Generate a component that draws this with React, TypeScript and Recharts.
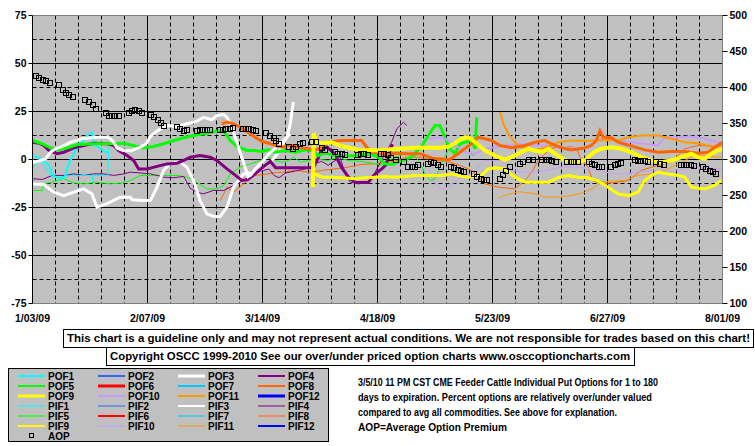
import React from "react";
import { ComposedChart, Line, XAxis, YAxis, CartesianGrid } from "recharts";

const FONT = "'Liberation Sans', Arial, sans-serif";

// x axis: days since 1/03/09
const dateTicks = [0, 35, 70, 105, 140, 175, 210];
const dateLabels = ["1/03/09", "2/07/09", "3/14/09", "4/18/09", "5/23/09", "6/27/09", "8/01/09"];
const weekDays = [7, 14, 21, 28, 42, 49, 56, 63, 77, 84, 91, 98, 112, 119, 126, 133, 147, 154, 161, 168, 182, 189, 196, 203];

const pctTicks = [-75, -50, -25, 0, 25, 50, 75];
const pctMajor = [-50, -25, 0, 25, 50];
const pctMinor = [-62.5, -37.5, -12.5, 12.5, 37.5, 62.5];
const premTicks = [100, 150, 200, 250, 300, 350, 400, 450, 500];

type Pt = [number, number];

const POF1: Pt[] = [[0,2.1],[1.9,1],[3.4,-0.5],[5,-3],[6,-7.5],[7,-9.2],[9,-10],[10,-8.5],[10.5,-4.9],[11.5,-0.5],[13,4.7],[14.6,8.2],[16.1,10.8],[17.1,13.4],[18.1,13.9],[18.4,10.8],[19.1,7.3],[20.7,5.6],[22.2,3.8],[22.9,3.8]];
const PIF1: Pt[] = [[0,-4.9],[1,-2.5],[2.4,0.3],[3.4,-3],[4.5,-5.7],[5.5,-8.3],[6.5,-9.2],[8.5,-9.2],[10.5,-8.5],[12.1,-8.3],[15.2,-8.3],[18.1,-8.3],[18.4,-11.8],[18.7,-8.3],[22.9,-8.3],[23.2,6.4]];
const POF3: Pt[] = [[0,-0.5],[0.4,-1.4],[2.4,-0.5],[4,0.3],[5.5,3.8],[7,5.6],[8.5,6.4],[10,7.6],[11.6,9],[13.6,9.9],[15.1,10.8],[16.6,11.1],[19.7,11.6],[22.7,11.6],[23.7,10.8],[24.7,9],[25.7,6],[27.5,4.7],[30,4.5],[32.8,6.5],[34.5,8],[35.9,12],[37.9,14.8],[40.9,17.7],[44,17.2],[47,18.6],[50,20],[52.1,22],[54.6,20.7],[56.1,22.9],[58.2,23.4],[59.2,22],[60.7,16.8],[62.2,9],[63.7,1.2],[64.7,-4],[65.6,-9],[66.5,-8],[67.8,-4.9],[70,-1],[71.9,3],[74,6],[75.9,9],[78.4,13.4]];
const PIF3: Pt[] = [[0,-12.7],[3.4,-13],[6.5,-17],[9.5,-18.8],[12.6,-17],[15.6,-15.3],[18.1,-17.9],[19.6,-24.8],[22.7,-23],[26.7,-19.6],[29.8,-19.6],[30.3,-21],[33.8,-21.4],[35.9,-21.4],[37.9,-14.4],[39.9,-5.7],[41.9,-2.3],[45,-1.4],[47,-4],[49,-11],[51,-21.4],[53.1,-28.3],[55,-29.5],[57.1,-29.7],[59.2,-24.8],[61.2,-14.4],[62.7,-10.9],[64.2,-7.5],[66,-7],[67.8,-7.5],[70,-4.5],[72.9,-0.5],[75,4],[77.4,11.6],[78.4,18],[79,25.5],[79.4,30]];
const POF4: Pt[] = [[0,9],[2,8.5],[3.4,7.3],[5,4.7],[7.5,3],[9.5,3.8],[12.6,6.1],[15.6,7.3],[18.6,8.5],[22.7,8.2],[24.7,7.3],[26.2,4.7],[28.8,2.1],[30.8,-0.5],[32.3,-4.9],[34.9,-4.9],[37.9,-3.6],[40.9,-2.3],[44,-1.9],[46,-0.5],[48,1.2],[51,2.1],[54.1,1.2],[56.1,-0.5],[59.2,-4.9],[61.2,-7.5],[63.7,-10.9],[65.5,-10.5],[67.8,-7.5],[70.8,-3.1],[72.4,-1],[74,-4.3],[79,-4.3],[85.5,-4.3],[87,1],[88,5],[89.6,6.5],[92,3],[94,-4],[96.2,-9.2],[98.2,-11.8],[102.2,-12],[103.8,-8.3],[106.3,-4.9],[107.5,-3],[108.5,2],[109.5,8]];
const PIF4: Pt[] = [[0,-10],[3,-10.4],[6,-8.3],[10,-8.3],[12.6,-7.5],[15.6,-8.3],[18.6,-7.5],[21.7,-7.5],[24.7,-8.3],[27.8,-7.5],[29.8,-6.6],[32.8,-7],[35.9,-7.5],[37.9,-8.3],[39.9,-9.2],[43,-9.5],[46,-8.8],[48,-15],[50,-17],[52,-17.9],[55.1,-16.1],[58.2,-16.1],[61.2,-13.5],[64.2,-10.9],[67.3,-7.5],[70.3,-5.7],[72,-5],[73.5,-8.3],[75,-9.5],[77,-7],[80,-6],[84,-4.5],[86,-2],[88,-1],[90,-3],[93.6,1.2],[95.2,-7.5],[96.7,-11.8],[99.2,-12.7],[102.2,-11.8],[104.3,-6.6],[107.3,3],[109.3,9],[110.9,16],[112.9,19.4],[113.9,17.7]];
const POF5: Pt[] = [[0,9.9],[3,8.2],[4.5,6.8],[7.5,5],[10.5,6],[13.6,7.8],[19.6,8.2],[23.7,8.2],[27.8,8.5],[31.8,6.8],[33.8,6.1],[36.9,6.8],[39.9,8.2],[43,9.9],[46,11.3],[49,12.5],[53.1,13.7],[56.1,14.8],[58.2,14.8],[60.2,9.9],[62.2,6.8],[65.3,4.7],[67.3,4.7],[69.8,4.2],[71.8,5],[73.9,3.8],[77,4.7],[80,3.8],[83,5],[85,4.7],[87,2],[89,3.3],[92,2],[95,2],[98,2],[100.2,2.6],[103.3,2.6],[105.3,1.2],[107.3,-2.3],[109.3,-2.6],[112,-1],[115,1],[118.5,7],[120.5,12.5],[122.5,17.7],[124,17.7],[125.5,11.6],[127,5.6],[128.6,3],[130.1,8.2],[131.6,9],[133.7,9.9],[134.7,5.5],[135.2,22]];
const PIF5: Pt[] = [[0,-16.1],[3,-16.1],[3.4,-12.7],[5.5,-12],[9.5,-10],[12.6,-12.2],[15.6,-12.7],[19.6,-11.8],[23.7,-12.7],[26.7,-12.3],[29.8,-11],[32.8,-8.3],[35.9,-8.3],[39.9,-8.3],[44,-8.3],[47,-9.2],[50,-11.8],[53.1,-15.3],[56.1,-15.3],[58.2,-13.5],[60.2,-7.5],[63.2,-4],[66.3,-2.3],[69.3,-0.5],[71.8,1.2],[73.9,-0.5],[75.9,-1.4],[78,-0.5],[79.5,1.2],[81.5,-1.4],[84,-0.5],[86,0.3],[90,-0.5],[93,1.2],[96,-0.5],[100,-1],[104,-2],[106.3,-3],[108,-1],[110,1],[113,3],[116,3],[118,-2],[119.5,-7.5],[121,-11],[122.5,-10],[124.5,-2.3],[126.5,4.7],[128.5,7.3],[130.5,5.5],[132.5,3.5],[134.5,2]];
const POF8: Pt[] = [[57.6,18.6],[59.2,19.5],[61.2,18.6],[63.2,16.8],[65.3,14.5],[67.8,11.6],[69.8,9.5],[71.9,8.5],[73.9,7.3],[75.9,6.4],[77.9,7.3],[81,6.4],[84,5.6],[86,5],[88,6],[90,9],[92,9.5],[94,9.9],[98,9.9],[100.2,9.9],[101.7,6.4],[103.3,3.8],[107.3,3],[110,3.3],[114,3],[118,3],[122,0.5],[124.5,0.3],[127,0],[129.5,3],[131.6,5.7],[133.5,8],[135.6,11.6],[137.7,10.8],[139.7,9.9],[142.3,7.3],[145.8,6.1],[149.9,7.3],[152.9,9],[155.9,9.9],[158,8.2],[161,6.1],[164,5],[168,6],[170.1,7.3],[171.6,9.9],[172.7,15],[173.7,11.6],[176.2,11.3],[178.2,9],[182.3,7],[186.3,5],[190.4,3.8],[194.4,4.2],[198.5,4.2],[202.5,3.3],[205.6,3.8],[207.6,6.4],[210,9]];
const PIF8: Pt[] = [[57.2,-21.3],[59.2,-14.4],[61.2,-17],[64.2,-12.7],[67.3,-8.3],[70,-8],[73,-7],[76,-6.6],[80,-5.7],[84,-6.6],[88,-5.7],[92,-4.9],[96,-4],[100,-2.6],[104,-2.3],[108,-1.4],[111,-0.5],[114,1.2],[118,1.2],[122,-0.5],[126,-1],[130,-3],[134,-6],[137.7,-12.7],[141.7,-14.4],[146.8,-15.3],[149.9,-11],[151.9,-6.6],[153.9,-0.5],[157,4.7],[159,6.4],[162,6.1],[164,6.8],[165.6,5.6],[167.1,-0.5],[169.1,-4],[170.1,-9.2],[170.6,-11],[173.2,-12.7],[178.2,-11.8],[181.3,-10.9],[183.3,-8.3],[185.3,-5.7],[188.4,-4],[194.4,-1.4],[198.5,5.6],[202.5,7.3],[207.6,6.8],[210,7]];
const POF9: Pt[] = [[85.3,-14.4],[85.6,13.7],[86.5,9],[88.5,8.5],[91,9],[94,7],[97.5,5.6],[100.2,4.7],[103,5],[106,4.7],[109,5.3],[112,5.6],[116,6.1],[120,6.1],[124,6.1],[127,6.8],[130.6,10.8],[132.6,11.6],[134.7,9],[137.7,4.7],[140.7,2.1],[143.8,-0.2],[146.8,2],[148.8,4],[150.9,5.6],[152.9,4.7],[155,4],[157,5.6],[159,3],[162,-0.2],[165,-1.4],[168,-0.5],[171,4],[173,5.6],[176.2,6.4],[179.2,5.6],[182.3,3.8],[185.3,1.2],[188.4,-0.5],[191.4,-1.4],[194.4,-0.5],[197.5,1.2],[200.5,3],[202.5,1.2],[204.6,0.3],[206.6,3],[208.6,4.7],[210,5.6]];
const PIF9: Pt[] = [[86,-7.5],[88.1,-9.2],[91.1,-9.2],[94.1,-9.5],[98.2,-10],[101.2,-9.5],[104.3,-9.2],[107.3,-8.8],[110.4,-9.2],[113.4,-8.8],[116.4,-8.3],[120.5,-8.3],[124.5,-8.3],[127.6,-7.5],[129.6,-8.3],[132.6,-9.2],[136.7,-8.3],[138.7,-4.9],[140.7,-4.3],[143.8,-4.9],[146.8,-9.2],[149.9,-11.8],[152.9,-11.8],[157,-11.8],[160,-9.5],[163,-8.3],[166,-9.2],[169,-9.5],[172,-11],[175.2,-14.4],[178.2,-17.9],[181.3,-18.8],[184.3,-17],[186.3,-10.9],[188.4,-8.3],[190.4,-6.6],[193.4,-7.5],[196.5,-8.3],[198.5,-9.2],[200.5,-14.4],[204.6,-15.3],[207.6,-13.5],[209.6,-10.9]];
const POF10: Pt[] = [[120.5,10.8],[124.5,11.6],[127.6,9],[129.6,6.4],[131.6,3.8],[134.7,2.9],[137.7,5.6],[140.7,6.4],[143.8,7.3],[147.8,8.2],[152.9,7.3],[158,7.3],[162,6.1],[166.1,5.6],[169.1,6.1],[171.1,9.9],[174.2,11.6],[178.2,9.9],[182.3,9],[186.3,8.2],[190.4,7.3],[192.4,11.6],[196.5,11.6],[200.5,12],[204.6,10.8],[208.6,9],[210,9]];
const PIF10: Pt[] = [[120.5,-5.7],[122.5,-12.7],[124.5,-15.3],[126.5,-14.4],[128.6,-11.8],[131,-9],[134,-7],[137.7,-0.5],[142.8,-0.5],[145.8,-5.7],[150.9,-6.6],[156,-5.7],[161,-4],[166.1,-4],[170.1,-4.9],[174.2,-6.6],[178.2,-7.5],[183.3,-6.6],[188.4,-5.7],[192.4,-6.6],[196.5,-5.7],[200.5,-4],[204.6,-4],[208.6,-4.9],[210,-4.9]];
const POF11: Pt[] = [[142.3,24.7],[143.3,18.6],[144.8,13.4],[146.8,9],[148.8,6.4],[151.9,5],[154.9,5.6],[158,7.3],[160,9],[164,9.9],[168.1,9.6],[171.1,9.9],[174.2,10.2],[178.2,9.9],[181.3,11.6],[185.3,12.5],[190.4,12.5],[194.4,10.8],[198.5,9],[202.5,8.5],[205.6,7.3],[207.6,6.4],[210,7.3]];
const PIF11: Pt[] = [[142,-20],[143.8,-18.6],[147.8,-16.8],[152.9,-17.7],[156,-19.6],[160,-19.6],[164,-18.8],[168.1,-17],[171.1,-14.4],[173.2,-11.8],[176.2,-11.2],[180.2,-10.9],[184.3,-8.3],[188.4,-7.5],[192.4,-5.7],[196.5,-2.3],[200.5,1.2],[204.6,2.1],[208.6,1.2],[210,1.5]];

// average option premium (right axis)
const AOP: Pt[] = [[1.1,416],[2.1,413],[3.1,411],[4.2,409],[5.2,406],[8.2,403],[9.2,397],[10.2,393],[11.2,390],[12.3,387],[16.1,383],[17.3,380],[18.3,376],[19.4,370],[22.3,365],[23.2,360],[24.2,360],[25.2,360],[26.2,360],[29.3,364],[30.3,367],[31.3,369],[32.3,367],[33.3,364],[36.1,362],[37.1,359],[38.1,355],[39.1,351],[40.1,347],[44,345],[45,342],[46,339],[47,341],[50,340],[51,341],[52,341],[53,341],[54,341],[57,341],[58,341],[59,342],[60,343],[61,344],[64,343],[65,343],[66,342],[67,341],[68,339],[71.1,337],[72.4,333],[73.4,330],[74.2,326],[75.1,322],[78.2,318],[79.3,315],[80.3,318],[81.3,321],[82.2,323],[85.2,324],[86.3,324],[88.1,316],[89.1,313],[92.1,310],[93.1,308],[94.1,307],[95.2,306],[99,306],[100,307],[101,307],[102,306],[106.1,307],[107.1,308],[108.1,306],[109.1,302],[110.6,299],[113.2,296],[114.4,289],[115.4,289],[116.4,290],[117.4,292],[120.3,294],[121.3,296],[122.3,295],[123.3,293],[124.3,290],[127.4,289],[128.4,288],[129.4,286],[130.4,284],[131.4,282],[134.4,280],[135.4,276],[136.4,273],[137.4,272],[138.4,272],[142.3,273],[143.3,279],[144.1,284],[145.3,289],[148.3,294],[149.4,296],[151.2,300],[152.4,300],[155.2,299],[156.2,299],[157.2,299],[158.2,298],[159.3,297],[162.8,297],[163.8,296],[164.8,296],[166,296],[169.3,296],[170.3,294],[171.3,292],[172.3,290],[173.4,289],[176.2,289],[177.2,293],[178.2,294],[179.2,295],[183.3,299],[184.3,298],[185.3,298],[186.3,298],[187.3,296],[189.9,296],[190.9,294],[192.1,292],[197.3,293],[198.3,292],[199.3,292],[200.3,292],[201.3,291],[204.1,290],[205.1,287],[206.1,284],[207.1,282],[208.1,280]];

// legend entries, row by row as in the original
const legendNames = ["POF1","POF2","POF3","POF4","POF5","POF6","POF7","POF8","POF9","POF10","POF11","POF12","PIF1","PIF2","PIF3","PIF4","PIF5","PIF6","PIF7","PIF8","PIF9","PIF10","PIF11","PIF12"];
const monthColors = ["#00FFFF","#3366FF","#FFFFFF","#800080","#00FF00","#FF0000","#00CCFF","#FF6600","#FFFF00","#CC99FF","#FF9900","#0000FF"];
const legendWidths = [2,2,3,2,2,3,2,2,3,2,2,3, 1,1,2,1,1,2,1,1,2,1,1,2];

const descLines = [
  "3/5/10 11 PM CST CME Feeder Cattle Individual Put Options for 1 to 180",
  "days to expiration. Percent options are relatively over/under valued",
  "compared to avg all commodities. See above for explanation.",
  "AOP=Average Option Premium",
];
const descWidths = [300, 294, 259, 149];

const toRows = (pts: Pt[]) => pts.map(([d, v]) => ({ d, v }));

const series = [
  { name: "PIF8", pts: PIF8, color: monthColors[7], w: 1 },
  { name: "PIF11", pts: PIF11, color: monthColors[10], w: 1 },
  { name: "PIF10", pts: PIF10, color: monthColors[9], w: 1 },
  { name: "PIF5", pts: PIF5, color: monthColors[4], w: 1 },
  { name: "PIF4", pts: PIF4, color: monthColors[3], w: 1 },
  { name: "PIF1", pts: PIF1, color: monthColors[0], w: 1 },
  { name: "PIF3", pts: PIF3, color: monthColors[2], w: 3 },
  { name: "POF1", pts: POF1, color: monthColors[0], w: 2 },
  { name: "POF4", pts: POF4, color: monthColors[3], w: 3 },
  { name: "POF5", pts: POF5, color: monthColors[4], w: 3 },
  { name: "POF3", pts: POF3, color: monthColors[2], w: 3 },
  { name: "POF10", pts: POF10, color: monthColors[9], w: 2 },
  { name: "POF11", pts: POF11, color: monthColors[10], w: 2 },
  { name: "POF8", pts: POF8, color: monthColors[7], w: 3 },
  { name: "PIF9", pts: PIF9, color: monthColors[8], w: 3 },
  { name: "POF9", pts: POF9, color: monthColors[8], w: 4 },
];

const tickStyle = { fill: "#000", fontSize: 10.5, fontWeight: 700, fontFamily: FONT };

function SquareDot(props: any) {
  const { cx, cy, index } = props;
  if (cx == null || cy == null) return <g key={index} />;
  return (
    <rect key={index} x={Math.round(cx) - 2.5} y={Math.round(cy) - 2.5} width={5} height={5} fill="none" stroke="#000" strokeWidth={1} />
  );
}

export default function App() {
  return (
    <div style={{ position: "absolute", left: 0, top: 0, width: 755, height: 446, background: "#fff", fontFamily: FONT }}>
      <ComposedChart width={755} height={341} margin={{ top: 15.5, right: 0.5, left: 0.5, bottom: 7.5 }}>
        <CartesianGrid
          yAxisId="left"
          fill="#C0C0C0"
          stroke="#000"
          horizontalValues={pctMajor}
          verticalValues={dateTicks.slice(1, -1)}
        />
        <CartesianGrid
          yAxisId="left"
          stroke="#000"
          strokeDasharray="4 3"
          horizontalValues={pctMinor}
          verticalValues={weekDays}
        />
        <CartesianGrid yAxisId="left" stroke="#808080" vertical={false} horizontalValues={[75]} />
        <XAxis
          type="number"
          dataKey="d"
          domain={[0, 210]}
          ticks={dateTicks}
          interval={0}
          allowDataOverflow
          tickFormatter={(d: number) => dateLabels[dateTicks.indexOf(d)]}
          axisLine={{ stroke: "#808080" }}
          tickLine={false}
          tickSize={0}
          tickMargin={11}
          height={30}
          tick={tickStyle}
        />
        <YAxis
          yAxisId="left"
          type="number"
          domain={[-75, 75]}
          ticks={pctTicks}
          interval={0}
          allowDataOverflow
          width={32}
          tickSize={4}
          tickMargin={2}
          axisLine={{ stroke: "#000" }}
          tickLine={{ stroke: "#000" }}
          tick={tickStyle}
        />
        <YAxis
          yAxisId="right"
          orientation="right"
          type="number"
          domain={[100, 500]}
          ticks={premTicks}
          interval={0}
          allowDataOverflow
          width={32}
          tickSize={5}
          tickMargin={2}
          axisLine={{ stroke: "#808080" }}
          tickLine={{ stroke: "#000" }}
          tick={tickStyle}
        />
        {series.map((s) => (
          <Line
            key={s.name}
            yAxisId="left"
            data={toRows(s.pts)}
            dataKey="v"
            type="linear"
            stroke={s.color}
            strokeWidth={s.w}
            dot={false}
            activeDot={false}
            isAnimationActive={false}
          />
        ))}
        <Line
          yAxisId="right"
          data={toRows(AOP)}
          dataKey="v"
          stroke="none"
          dot={(p: any) => <SquareDot key={p.index} {...p} />}
          activeDot={false}
          isAnimationActive={false}
        />
      </ComposedChart>

      <svg width={755} height={446} style={{ position: "absolute", left: 0, top: 0, pointerEvents: "none" }}>
        <g fontFamily={FONT} fontWeight={700} fill="#000">
          <rect x={63.5} y={329.5} width={690} height={18} fill="#fff" stroke="#000" />
          <text x={67} y={342} fontSize={11.5} textLength={683} lengthAdjust="spacingAndGlyphs">
            This chart is a guideline only and may not represent actual conditions. We are not responsible for trades based on this chart!
          </text>
          <rect x={106.5} y={347.5} width={528} height={18} fill="#fff" stroke="#000" />
          <text x={110} y={360} fontSize={11.5} textLength={520} lengthAdjust="spacingAndGlyphs">
            Copyright OSCC 1999-2010 See our over/under priced option charts www.osccoptioncharts.com
          </text>

          <rect x={8.5} y={368.5} width={320} height={73} fill="#C0C0C0" stroke="#000" />
          {legendNames.map((name, i) => {
            const col = i % 4;
            const row = Math.floor(i / 4);
            const base = 380 + row * 10;
            return (
              <g key={name}>
                <line x1={18 + col * 80} x2={45 + col * 80} y1={base - 4} y2={base - 4} stroke={monthColors[i % 12]} strokeWidth={legendWidths[i]} />
                <text x={48 + col * 80} y={base} fontSize={10}>{name}</text>
              </g>
            );
          })}
          <rect x={29.5} y={433.5} width={4} height={4} fill="none" stroke="#000" />
          <text x={48} y={440} fontSize={10}>AOP</text>

          {descLines.map((t, i) => (
            <text key={i} x={358} y={386 + i * 15} fontSize={11} textLength={descWidths[i]} lengthAdjust="spacingAndGlyphs">
              {t}
            </text>
          ))}
        </g>
      </svg>
    </div>
  );
}
